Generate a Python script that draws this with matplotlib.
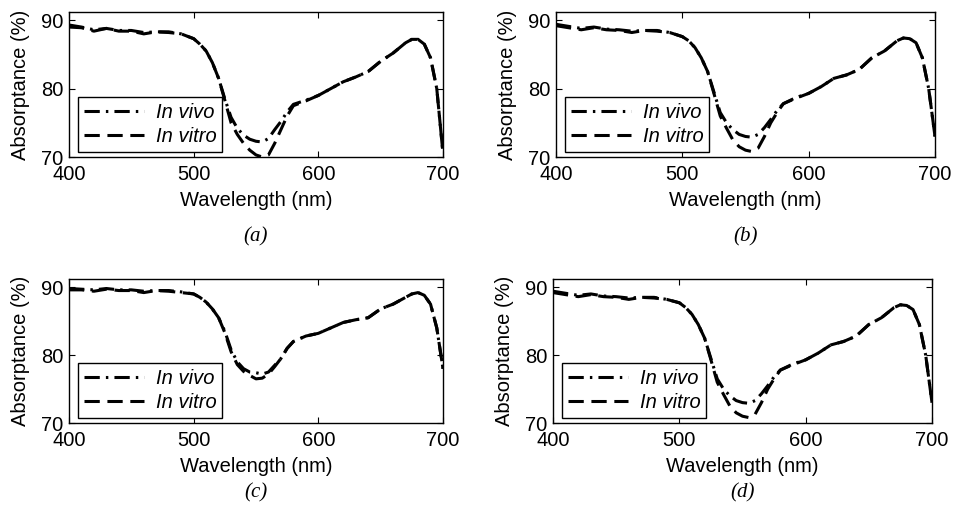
import matplotlib
matplotlib.use("Agg")
import matplotlib.pyplot as plt

plt.rcParams['font.family'] = ['Liberation Sans', 'DejaVu Sans']

# wavelength grid (nm)
wavelength = [400, 410, 420, 430, 440, 450, 460, 470, 480, 490, 500, 505, 510, 515,
              520, 525, 530, 535, 540, 545, 550, 555, 560, 565, 570, 575, 580, 590,
              600, 610, 620, 630, 640, 650, 660, 670, 675, 680, 685, 690, 695, 700]

# (a)
vivo_a = [89.3, 89.0, 88.6, 88.8, 88.5, 88.5, 88.2, 88.3, 88.3, 88.0, 87.3, 86.5, 85.5, 83.8,
          81.5, 78.5, 75.8, 74.2, 73.2, 72.6, 72.3, 72.2, 72.7, 74.0, 75.2, 76.6, 77.7, 78.3,
          79.0, 80.0, 81.0, 81.7, 82.5, 84.0, 85.2, 86.7, 87.2, 87.2, 86.5, 84.5, 80.0, 70.5]
vitro_a = [89.0, 88.9, 88.4, 88.8, 88.4, 88.4, 88.0, 88.3, 88.2, 88.0, 87.3, 86.5, 85.5, 83.8,
           81.5, 78.3, 75.0, 73.3, 72.0, 71.0, 70.3, 70.0, 70.3, 72.0, 74.0, 76.0, 77.5, 78.2,
           79.0, 80.0, 81.0, 81.7, 82.5, 84.0, 85.2, 86.7, 87.2, 87.2, 86.5, 84.5, 80.0, 70.5]

# (b)
vivo_b = [89.4, 89.1, 88.8, 89.0, 88.7, 88.6, 88.4, 88.5, 88.5, 88.2, 87.6, 87.0, 86.0, 84.5,
          82.5, 79.5, 76.5, 75.0, 74.0, 73.3, 73.0, 72.9, 73.3, 74.3, 75.5, 76.8, 77.8, 78.7,
          79.3, 80.3, 81.5, 82.0, 82.8, 84.5, 85.5, 87.0, 87.4, 87.3, 86.7, 84.5, 80.0, 73.0]
vitro_b = [89.2, 88.9, 88.6, 88.9, 88.6, 88.5, 88.2, 88.5, 88.4, 88.2, 87.6, 87.0, 86.0, 84.5,
           82.5, 79.3, 76.0, 74.2, 72.5, 71.5, 71.0, 70.8, 71.3, 73.0, 75.0, 76.5, 77.8, 78.6,
           79.3, 80.3, 81.5, 82.0, 82.8, 84.5, 85.5, 87.0, 87.4, 87.3, 86.7, 84.5, 80.0, 73.0]

# (c)
vivo_c = [89.8, 89.7, 89.6, 89.8, 89.6, 89.6, 89.4, 89.5, 89.5, 89.3, 89.0, 88.5, 87.8, 86.8,
          85.5, 83.5, 80.8, 79.0, 78.0, 77.5, 77.4, 77.2, 77.5, 78.5, 79.5, 81.0, 82.0, 82.8,
          83.2, 84.0, 84.8, 85.2, 85.5, 86.8, 87.5, 88.5, 89.0, 89.2, 88.8, 87.5, 84.0, 78.0]
vitro_c = [89.6, 89.6, 89.4, 89.7, 89.5, 89.5, 89.2, 89.5, 89.4, 89.2, 89.0, 88.5, 87.8, 86.8,
           85.5, 83.3, 80.5, 78.6, 77.6, 77.0, 76.5, 76.6, 77.2, 78.3, 79.5, 81.0, 82.0, 82.8,
           83.2, 84.0, 84.8, 85.2, 85.5, 86.8, 87.5, 88.5, 89.0, 89.2, 88.8, 87.5, 84.0, 78.0]

# (d)
vivo_d = [89.4, 89.1, 88.8, 89.0, 88.7, 88.6, 88.4, 88.5, 88.5, 88.2, 87.7, 87.0, 86.0, 84.5,
          82.5, 79.5, 76.5, 75.0, 74.0, 73.3, 73.0, 72.9, 73.3, 74.3, 75.5, 76.8, 77.8, 78.7,
          79.3, 80.3, 81.5, 82.0, 82.8, 84.5, 85.5, 87.0, 87.4, 87.3, 86.7, 84.5, 80.0, 73.0]
vitro_d = [89.2, 88.9, 88.6, 88.9, 88.6, 88.5, 88.2, 88.5, 88.4, 88.2, 87.7, 87.0, 86.0, 84.5,
           82.5, 79.3, 76.0, 74.2, 72.5, 71.5, 71.0, 70.8, 71.3, 73.0, 75.0, 76.5, 77.8, 78.6,
           79.3, 80.3, 81.5, 82.0, 82.8, 84.5, 85.5, 87.0, 87.4, 87.3, 86.7, 84.5, 80.0, 73.0]

# tag, series, axes box in pixels (x0, y0, x1, y1), caption y
panels = [
    ('(a)', vivo_a, vitro_a, [69, 12, 443, 157], 237),
    ('(b)', vivo_b, vitro_b, [556, 12, 935, 157], 237),
    ('(c)', vivo_c, vitro_c, [69, 279, 443, 423], 493),
    ('(d)', vivo_d, vitro_d, [553, 279, 932, 423], 493),
]

W, H = 959, 515
fig = plt.figure(figsize=(W / 100, H / 100), dpi=100)

for tag, vivo, vitro, box, cap_y in panels:
    x0, y0, x1, y1 = box
    ax = fig.add_axes([x0 / W, 1 - y1 / H, (x1 - x0) / W, (y1 - y0) / H])
    ax.plot(wavelength, vivo, color='black', lw=2.2, ls=(0, (5, 2, 0.8, 2)), label='In vivo')
    ax.plot(wavelength, vitro, color='black', lw=2.2, ls=(0, (5, 2.5)), label='In vitro')
    ax.set_xlim(400, 700)
    ax.set_ylim(70, 91.2)
    ax.set_xticks([400, 500, 600, 700])
    ax.set_yticks([70, 80, 90])
    ax.tick_params(direction='in', top=True, right=True, labelsize=14.5, length=4)
    ax.tick_params(axis='x', pad=6)
    ax.tick_params(axis='y', pad=4)
    for s in ax.spines.values():
        s.set_linewidth(1.0)
    ax.set_xlabel('Wavelength (nm)', fontsize=14.5, labelpad=5)
    ax.set_ylabel('Absorptance (%)', fontsize=14.5, labelpad=8)
    leg = ax.legend(loc='lower left', prop={'style': 'italic', 'size': 14.5},
                    bbox_to_anchor=(9 / (x1 - x0), 5 / (y1 - y0)), borderaxespad=0,
                    frameon=True, fancybox=False, edgecolor='black', framealpha=1,
                    handlelength=3.0, handletextpad=0.55, labelspacing=0.25, borderpad=0.3)
    leg.get_frame().set_linewidth(1.0)
    fig.text((x0 + x1) / 2 / W, 1 - cap_y / H, tag, ha='center', va='center',
             fontsize=15, family='Liberation Serif', style='italic')

fig.savefig('out.png', dpi=100)
